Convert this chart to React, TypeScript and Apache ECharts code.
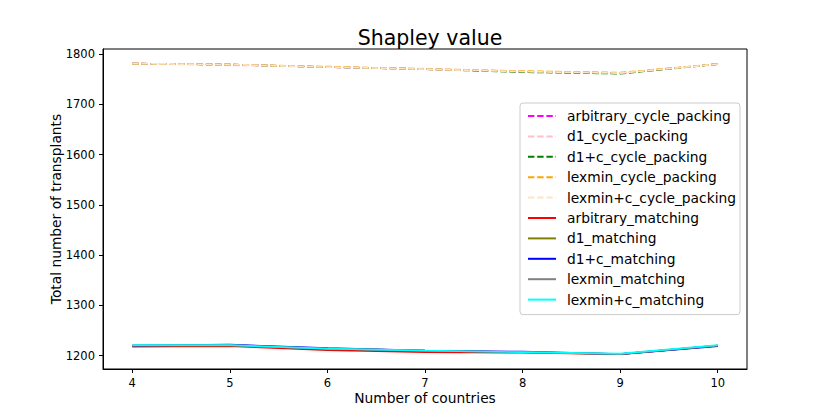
import React, { useEffect, useRef } from "react";
import * as echarts from "echarts";

const countries = [4, 5, 6, 7, 8, 9, 10];
const xTicks = [4, 5, 6, 7, 8, 9, 10];
const yTicks = [1200, 1300, 1400, 1500, 1600, 1700, 1800];

const arbitraryCycle = [1781, 1779, 1774, 1770, 1765, 1762, 1780];
const d1Cycle = [1781, 1778, 1774, 1771, 1765, 1762, 1780];
const d1cCycle = [1781, 1779, 1774, 1770, 1764, 1761, 1780];
const lexminCycle = [1781, 1779, 1775, 1770, 1766, 1763, 1780];
const lexmincCycle = [1781, 1779, 1774, 1770, 1765, 1762, 1780];

const arbitraryMatching = [1218, 1219, 1211, 1207, 1206, 1203, 1220];
const d1Matching = [1220, 1221, 1214, 1210, 1207, 1203, 1220];
const d1cMatching = [1220, 1222, 1215, 1210, 1208, 1203, 1219];
const lexminMatching = [1220, 1221, 1214, 1210, 1207, 1203, 1220];
const lexmincMatching = [1221, 1221, 1214, 1210, 1207, 1204, 1221];

const seriesDefs = [
  { name: "arbitrary_cycle_packing", values: arbitraryCycle, color: "#ff00ff", dashed: true },
  { name: "d1_cycle_packing", values: d1Cycle, color: "#ffc0cb", dashed: true },
  { name: "d1+c_cycle_packing", values: d1cCycle, color: "#008000", dashed: true },
  { name: "lexmin_cycle_packing", values: lexminCycle, color: "#ffa500", dashed: true },
  { name: "lexmin+c_cycle_packing", values: lexmincCycle, color: "#ffe4c4", dashed: true },
  { name: "arbitrary_matching", values: arbitraryMatching, color: "#ff0000", dashed: false },
  { name: "d1_matching", values: d1Matching, color: "#808000", dashed: false },
  { name: "d1+c_matching", values: d1cMatching, color: "#0000ff", dashed: false },
  { name: "lexmin_matching", values: lexminMatching, color: "#808080", dashed: false },
  { name: "lexmin+c_matching", values: lexmincMatching, color: "#00ffff", dashed: false },
];

const FONT = "DejaVu Sans";

export default function App() {
  const ref = useRef<HTMLDivElement>(null);
  useEffect(() => {
    if (!ref.current) return;
    const chart = echarts.init(ref.current, null, { renderer: "svg" });
    chart.setOption({
      animation: false,
      backgroundColor: "#ffffff",
      title: {
        text: "Shapley value",
        left: 425,
        top: 22,
        textAlign: "center",
        textStyle: { fontFamily: FONT, fontSize: 20.5, fontWeight: "normal", color: "#000" },
      },
      grid: {
        left: 103,
        right: 83,
        top: 49,
        bottom: 46,
        show: true,
        borderColor: "#000",
        borderWidth: 1,
        backgroundColor: "transparent",
      },
      legend: {
        orient: "vertical",
        left: 520,
        top: 103,
        padding: [6, 4, 8, 7],
        itemWidth: 28,
        itemHeight: 14,
        itemGap: 6.4,
        backgroundColor: "rgba(255,255,255,0.8)",
        borderColor: "#cccccc",
        borderWidth: 1,
        borderRadius: 3,
        itemStyle: { opacity: 0, color: "transparent", borderWidth: 0 },
        textStyle: { fontFamily: FONT, fontSize: 13.8, color: "#000", padding: [0, 0, 0, 6] },
        data: seriesDefs.map((s) => s.name),
      },
      xAxis: {
        type: "value",
        min: 3.7,
        max: 10.3,
        name: "Number of countries",
        nameLocation: "middle",
        nameGap: 22,
        nameMoveOverlap: false,
        nameTextStyle: { fontFamily: FONT, fontSize: 13.8, color: "#000", verticalAlign: "top" },
        axisLine: { show: true, lineStyle: { color: "#000", width: 1 } },
        axisTick: { show: true, length: 4, inside: false, customValues: xTicks, lineStyle: { color: "#000" } },
        axisLabel: { customValues: xTicks, margin: 8, fontFamily: FONT, fontSize: 11.5, color: "#000" },
        splitLine: { show: false },
      },
      yAxis: {
        type: "value",
        min: 1173.6,
        max: 1810,
        name: "Total number of transplants",
        nameLocation: "middle",
        nameGap: 40,
        nameMoveOverlap: false,
        nameRotate: 90,
        nameTextStyle: { fontFamily: FONT, fontSize: 13.8, color: "#000" },
        axisLine: { show: true, lineStyle: { color: "#000", width: 1 } },
        axisTick: { show: true, length: 4, inside: false, customValues: yTicks, lineStyle: { color: "#000" } },
        axisLabel: {
          customValues: yTicks,
          margin: 8,
          fontFamily: FONT,
          fontSize: 11.5,
          color: "#000",
          formatter: (v: number) => String(v),
        },
        splitLine: { show: false },
      },
      series: seriesDefs.map((s) => ({
        name: s.name,
        type: "line",
        symbol: "none",
        showSymbol: false,
        color: s.color,
        lineStyle: {
          color: s.color,
          width: 1.7,
          type: s.dashed ? [6.4, 2.8] : "solid",
        },
        data: countries.map((c, i) => [c, s.values[i]]),
      })),
    });
    return () => chart.dispose();
  }, []);
  return (
    <div
      ref={ref}
      style={{ position: "absolute", left: 0, top: 0, width: 830, height: 415 }}
    />
  );
}
